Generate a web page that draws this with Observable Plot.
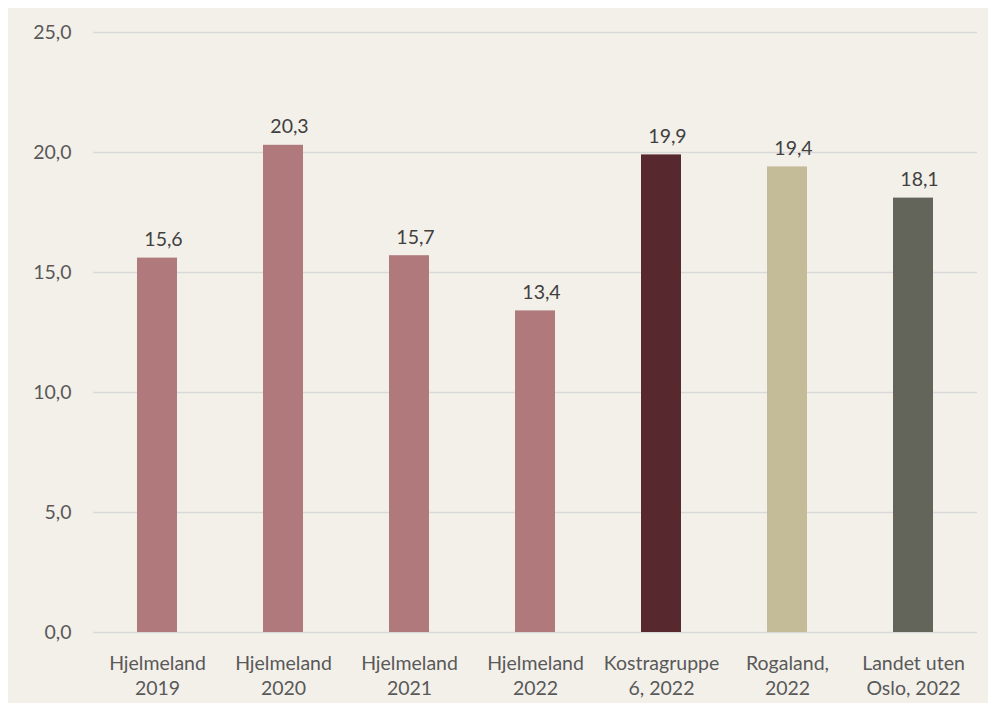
<!DOCTYPE html>
<html>
<head>
<meta charset="utf-8">
<script src="https://cdn.jsdelivr.net/npm/d3@7"></script>
<script src="https://cdn.jsdelivr.net/npm/@observablehq/plot@0.6"></script>
<style>
  html, body { margin: 0; padding: 0; overflow: hidden; background: #ffffff; }
  #wrap { position: absolute; left: 8px; top: 8px; width: 980px; height: 695px; background: #f3f0ea; }
  #wrap svg { display: block; }
</style>
</head>
<body>
<div id="wrap"></div>
<script>
// Share per category (Hjelmeland over time vs. comparison groups)
const categories = [
  "Hjelmeland\n2019",
  "Hjelmeland\n2020",
  "Hjelmeland\n2021",
  "Hjelmeland\n2022",
  "Kostragruppe\n6, 2022",
  "Rogaland,\n2022",
  "Landet uten\nOslo, 2022"
];
const values = [15.6, 20.3, 15.7, 13.4, 19.9, 19.4, 18.1];
const barColors = ["#b07a7c", "#b07a7c", "#b07a7c", "#b07a7c", "#58282f", "#c4bb98", "#63655b"];
const yTicks = [0, 5, 10, 15, 20, 25];

const rows = categories.map((c, i) => ({category: c, value: values[i], color: barColors[i]}));
const comma = v => d3.format(".1f")(v).replace(".", ",");

const axisColor = "#595959";
const valueColor = "#404040";
const font = "Lato, 'Open Sans', sans-serif";

const chart = Plot.plot({
  width: 980,
  height: 695,
  marginLeft: 85,
  marginRight: 11,
  marginTop: 24,
  marginBottom: 71,
  style: {background: "transparent", fontFamily: font, fontSize: "19.5px", color: axisColor},
  x: {domain: categories, paddingInner: 0.683, paddingOuter: 0.342, label: null},
  y: {domain: [0, 25], label: null},
  marks: [
    Plot.gridY(yTicks, {stroke: "#d9d9d9", strokeOpacity: 1, strokeWidth: 1.5}),
    Plot.axisY(yTicks, {tickSize: 0, tickPadding: 22, tickFormat: comma, fill: axisColor, fontSize: 19.5, label: null}),
    Plot.axisX({tickSize: 0, tickPadding: 19, fill: axisColor, fontSize: 19.5, lineHeight: 1.3, label: null}),
    Plot.barY(rows, {x: "category", y: "value", fill: "color"}),
    Plot.text(rows, {x: "category", y: "value", text: d => comma(d.value), lineAnchor: "bottom", dy: -12, dx: 6, fill: valueColor, fontSize: 19.5})
  ]
});
document.getElementById("wrap").appendChild(chart);
</script>
</body>
</html>
